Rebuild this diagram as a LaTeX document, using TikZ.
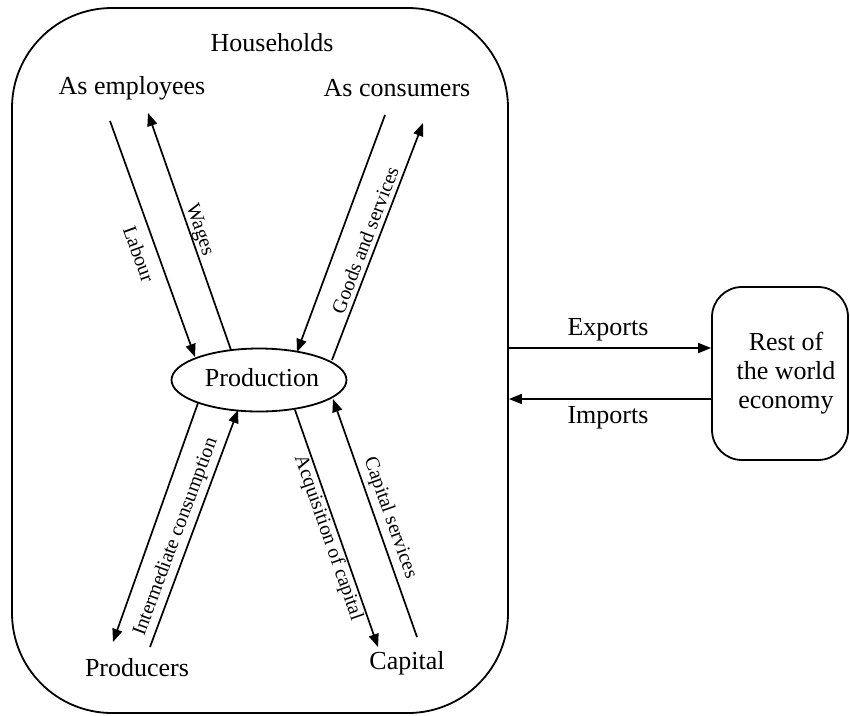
\documentclass[tikz,border=0pt]{standalone}
\usepackage{fontspec}
\setmainfont{Liberation Serif}
\usetikzlibrary{arrows.meta,shapes.geometric}
\begin{document}
\begin{tikzpicture}[x=1pt,y=-1pt,
  big/.style={font=\fontsize{26}{29}\selectfont, inner sep=0pt},
  flowlabel/.style={font=\fontsize{20}{24}\selectfont, inner sep=0pt},
  flow/.style={line width=1.7pt, -{Triangle[length=13pt,width=10pt]}},
  frame/.style={draw, line width=1.8pt}]
\useasboundingbox (0,0) rectangle (850,715);

% sectors
\node[frame, rounded corners=100pt, minimum width=496pt, minimum height=705pt, inner sep=0pt] (hh) at (260,360.5) {};
\node[big] (hhtitle) at (272,43) {Households};
\node[big] (emp) at (132,88) {As employees};
\node[big] (cons) at (397,88) {As consumers};
\node[frame, ellipse, minimum width=175pt, minimum height=63pt, inner sep=0pt] (prod) at (259,380) {};
\node[big] (prodtext) at (262,378) {Production};
\node[big] (prods) at (137,668) {Producers};
\node[big] (cap) at (407,663) {Capital};
\node[frame, rounded corners=30pt, minimum width=136pt, minimum height=173pt, inner sep=0pt,
      label={[big, align=center, xshift=6pt]center:Rest of\\the world\\economy}] (rw) at (780,373.5) {};

% flow end points
\coordinate (labA) at (110,121);  \coordinate (labB) at (195,357);
\coordinate (wagA) at (231,350);  \coordinate (wagB) at (148,113);
\coordinate (gsA)  at (385,115);  \coordinate (gsB)  at (297,352);
\coordinate (gsuA) at (332,360);  \coordinate (gsuB) at (423,123);
\coordinate (icA)  at (198,403);  \coordinate (icB)  at (113,642);
\coordinate (icuA) at (150,647);  \coordinate (icuB) at (238,410);
\coordinate (acA)  at (295,410);  \coordinate (acB)  at (378,647);
\coordinate (csA)  at (417,637);  \coordinate (csB)  at (333,399);
\coordinate (exy)  at (600,348);
\coordinate (imy)  at (600,399);

% flows within the economy
\draw[flow] (labA) -- (labB);
\draw[flow] (wagA) -- (wagB);
\draw[flow] (gsA) -- (gsB);
\draw[flow] (gsuA) -- (gsuB);
\draw[flow] (icA) -- (icB);
\draw[flow] (icuA) -- (icuB);
\draw[flow] (acA) -- (acB);
\draw[flow] (csA) -- (csB);

% flow labels
\node[flowlabel, rotate=-70] (lab) at (139,254) {Labour};
\node[flowlabel, rotate=-71] (wag) at (199,230) {Wages};
\node[flowlabel, rotate=69] (gs) at (365,240) {Goods and services};
\node[flowlabel, rotate=69.6] (ic) at (176,537) {Intermediate consumption};
\node[flowlabel, rotate=-70.7] (ac) at (328,538) {Acquisition of capital};
\node[flowlabel, rotate=-70.6] (cs) at (390,518) {Capital services};

% trade with the rest of the world
\draw[flow] (hh.east |- exy) -- (rw.west |- exy);
\draw[flow] (rw.west |- imy) -- (hh.east |- imy);
\node[big] (ex) at (608,330) {Exports};
\node[big] (im) at (608,418) {Imports};
\end{tikzpicture}
\end{document}
